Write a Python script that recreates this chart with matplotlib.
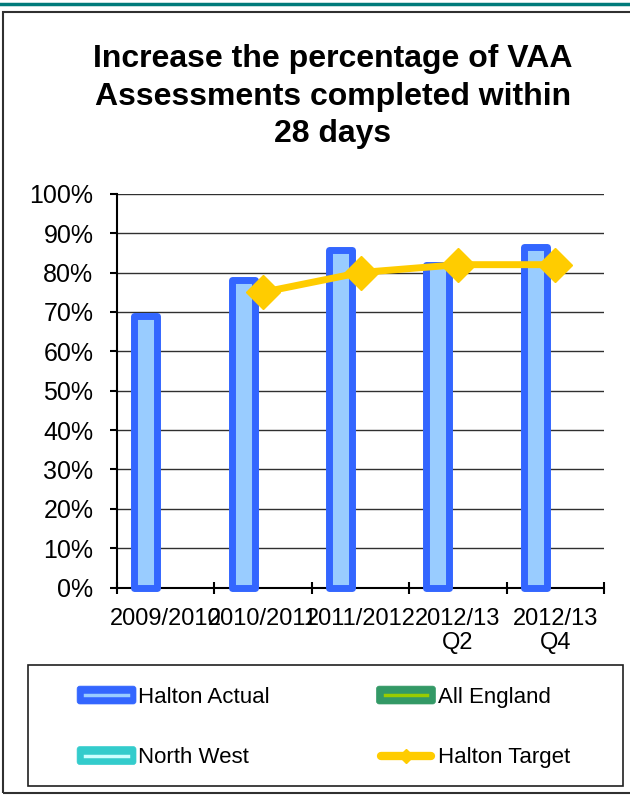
import matplotlib
matplotlib.use("Agg")
import matplotlib.pyplot as plt
from matplotlib.patches import Rectangle, Patch, FancyBboxPatch
from matplotlib.lines import Line2D
import numpy as np

plt.rcParams['font.family'] = ['Liberation Sans', 'DejaVu Sans']

categories = ["2009/2010", "2010/2011", "2011/2012", "2012/13\nQ2", "2012/13\nQ4"]
halton_actual = [69, 78, 85.7, 82, 86.5]
halton_target = [np.nan, 75, 80, 82, 82]
yticks = list(range(0, 101, 10))
ytick_labels = [f"{v}%" for v in yticks]
title = "Increase the percentage of VAA\nAssessments completed within\n28 days"
legend_labels = ["Halton Actual", "All England", "North West", "Halton Target"]

W, H = 630, 797
fig = plt.figure(figsize=(6.3, 7.97), dpi=100)

def fx(px):
    return px / W

def fy(py):
    return 1 - py / H

# top teal rule
fig.add_artist(Line2D([0, 1], [fy(4), fy(4)], color="#007B7B", lw=2.5, transform=fig.transFigure))
# chart border
fig.add_artist(Rectangle((fx(3), fy(793)), fx(640) - fx(3), fy(11.5) - fy(793),
                         transform=fig.transFigure, fill=False, edgecolor="#303030", lw=1.5))

ax = fig.add_axes([fx(117), fy(587.5), fx(604) - fx(117), fy(193.8) - fy(587.5)])
ax.set_xlim(-0.5, 4.5)
ax.set_ylim(0, 100)
ax.set_yticks(yticks)
ax.set_yticklabels(ytick_labels, fontsize=18)
ax.set_xticks(np.arange(-0.5, 5, 1))
ax.set_xticklabels([""] * 6)
ax.set_xticks(np.arange(len(categories)), minor=True)
ax.set_xticklabels(categories, minor=True, fontsize=17, linespacing=1.1)
ax.tick_params(axis='x', which='major', direction='inout', length=9, width=1.5)
ax.tick_params(axis='x', which='minor', length=0, pad=15)
ax.tick_params(axis='y', direction='out', length=5, width=1.5, pad=12)
ax.grid(axis='y', color='#303030', lw=1)
for s in ['top', 'right']:
    ax.spines[s].set_visible(False)
for s in ['left', 'bottom']:
    ax.spines[s].set_linewidth(1.5)
ax.set_axisbelow(True)

x = np.arange(len(categories))
ax.bar(x - 0.205, halton_actual, width=0.235, color="#99CCFF", edgecolor="#3366FF",
       linewidth=5, joinstyle='round', clip_on=False, zorder=3)
ax.plot(x, halton_target, color="#FFCC00", lw=5, marker='D', markersize=17,
        clip_on=False, zorder=4)

fig.text(fx(333), fy(44), title, ha='center', va='top', fontsize=23, fontweight='bold',
         linespacing=1.33)

# legend frame
fig.add_artist(Rectangle((fx(28), fy(786)), fx(623) - fx(28), fy(665) - fy(786),
                         transform=fig.transFigure, fill=False, edgecolor="#202020", lw=1.2))


class BarKeyHandler:
    def __init__(self, face, inner):
        self.face = face
        self.inner = inner

    def legend_artist(self, legend, orig_handle, fontsize, handlebox):
        x0, y0 = -handlebox.xdescent, -handlebox.ydescent
        w, h = handlebox.width, handlebox.height
        r = 2.0
        tr = handlebox.get_transform()
        p = FancyBboxPatch((x0 + r, y0 + r), w - 2 * r, h - 2 * r,
                           boxstyle=f"round,pad={r}", fc=self.face, ec=self.face,
                           lw=0.5, transform=tr)
        ln = Line2D([x0 + 0.14 * w, x0 + 0.86 * w], [y0 + h / 2] * 2,
                    color=self.inner, lw=2.5, transform=tr)
        handlebox.add_artist(p)
        handlebox.add_artist(ln)
        return p


class TargetKeyHandler:
    def legend_artist(self, legend, orig_handle, fontsize, handlebox):
        x0, y0 = -handlebox.xdescent, -handlebox.ydescent
        w, h = handlebox.width, handlebox.height
        tr = handlebox.get_transform()
        ln = Line2D([x0 + 3, x0 + w - 3], [y0 + h / 2] * 2, color="#FFCC00", lw=6,
                    solid_capstyle='round', transform=tr)
        mk = Line2D([x0 + w / 2], [y0 + h / 2], color="#FFCC00", marker='D',
                    markersize=7, transform=tr)
        handlebox.add_artist(ln)
        handlebox.add_artist(mk)
        return ln


h_actual = Patch(label=legend_labels[0])
h_england = Patch(label=legend_labels[1])
h_nw = Patch(label=legend_labels[2])
h_target = Line2D([], [], label=legend_labels[3])
handler_map = {h_actual: BarKeyHandler("#3366FF", "#99CCFF"),
               h_england: BarKeyHandler("#339966", "#99CC00"),
               h_nw: BarKeyHandler("#33CCCC", "#CCFFFF"),
               h_target: TargetKeyHandler()}
# column-major fill: row 1 = Halton Actual, All England; row 2 = North West, Halton Target
order = [h_actual, h_nw, h_england, h_target]
leg = fig.legend(order, [h.get_label() for h in order], ncol=2, loc='upper left',
                 bbox_to_anchor=(fx(66), fy(675)), frameon=False, fontsize=16,
                 handler_map=handler_map,
                 handlelength=2.65, handleheight=0.86, handletextpad=0.1,
                 columnspacing=4.8, labelspacing=1.75, borderpad=0)

fig.savefig("out.png", dpi=100)
